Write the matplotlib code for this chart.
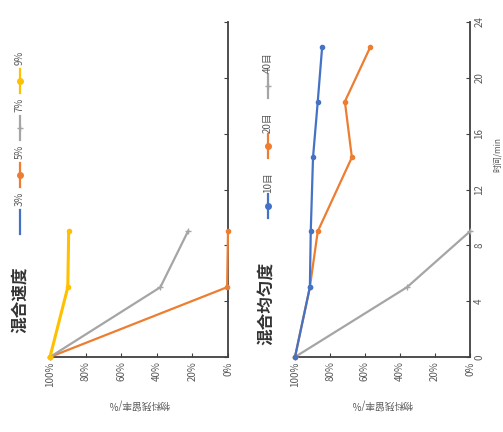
import numpy as np
import matplotlib
matplotlib.use("Agg")
from matplotlib import pyplot as plt

plt.rcParams['font.family'] = ['Noto Sans CJK SC', 'DejaVu Sans']

# chart is drawn turned a quarter turn: x = percent (100% on the left), y = time on the right side
t_left = [0, 5, 9]
yellow_left = [100, 90, 89.5]
gray_left = [100, 38, 22.5]
orange_left = [100, 0.5, 0]

t_right = [0, 5, 9, 14.3, 18.3, 22.2]
blue_right = [100, 91.5, 91, 89.7, 87, 84.5]
orange_right = [100, 91.5, 87, 67.5, 71.5, 57]
t_gray_right = [0, 5, 9]
gray_right = [100, 36, 0]

pct_ticks = [100, 80, 60, 40, 20, 0]
pct_labels = ['100%', '80%', '60%', '40%', '20%', '0%']
t_ticks = [0, 4, 8, 12, 16, 20, 24]

legend_left = ['3%', '5%', '7%', '9%']
legend_right = ['10目', '20目', '40目']

BLUE = '#4472C4'
ORANGE = '#ED7D31'
GRAY = '#A5A5A5'
GOLD = '#FFC000'
TXT = '#595959'
AX = '#404040'

W, H = 503, 432
fig = plt.figure(figsize=(W / 100, H / 100), dpi=100)


def px_box(x0, y0, x1, y1):
    return [x0 / W, 1 - y1 / H, (x1 - x0) / W, (y1 - y0) / H]


def style(ax, show_t):
    ax.set_xlim(100, 0)
    ax.set_ylim(0, 24)
    ax.spines['top'].set_visible(False)
    ax.spines['left'].set_visible(False)
    for s in ['bottom', 'right']:
        ax.spines[s].set_color(AX)
        ax.spines[s].set_linewidth(1.3)
    ax.yaxis.tick_right()
    ax.set_xticks(pct_ticks)
    ax.set_xticklabels(pct_labels, rotation=90, fontsize=7, color=TXT)
    ax.set_yticks(t_ticks)
    if show_t:
        ax.set_yticklabels([str(v) for v in t_ticks], rotation=90, fontsize=7,
                           color=TXT, va='center')
    else:
        ax.set_yticklabels([])
    ax.tick_params(axis='both', direction='in', length=3, color=AX, pad=3)
    ax.set_xlabel('物料残留率/%', rotation=180, fontsize=7, color=TXT, labelpad=8)


ax1 = fig.add_axes(px_box(50, 22, 228, 357))
style(ax1, False)
ax1.plot(orange_left, t_left, color=ORANGE, lw=1.6, marker='o', ms=3, clip_on=False, zorder=3)
ax1.plot(gray_left, t_left, color=GRAY, lw=1.6, marker='+', ms=5, clip_on=False, zorder=3)
ax1.plot(yellow_left, t_left, color=GOLD, lw=2.2, marker='o', ms=3, clip_on=False, zorder=4)

ax2 = fig.add_axes(px_box(295, 22, 470, 357))
style(ax2, True)
ax2.plot(gray_right, t_gray_right, color=GRAY, lw=1.6, marker='+', ms=5, clip_on=False, zorder=3)
ax2.plot(orange_right, t_right, color=ORANGE, lw=1.6, marker='o', ms=3, clip_on=False, zorder=3)
ax2.plot(blue_right, t_right, color=BLUE, lw=1.6, marker='o', ms=3, clip_on=False, zorder=4)

# titles and side labels, turned like the rest
fig.text(20 / W, 1 - 300 / H, '混合速度', rotation=90, fontsize=12, weight='bold',
         color='#333333', ha='center', va='center')
fig.text(267 / W, 1 - 303 / H, '混合均匀度', rotation=90, fontsize=12, weight='bold',
         color='#333333', ha='center', va='center')
fig.text(497 / W, 1 - 155 / H, '时间/min', rotation=90, fontsize=6, color=TXT,
         ha='center', va='center')

# legends drawn by hand, reading bottom to top
lax = fig.add_axes([0, 0, 1, 1])
lax.set_xlim(0, W)
lax.set_ylim(H, 0)
lax.axis('off')


def draw_legend(x, y_start, step, items):
    y = y_start
    for color, marker, label in items:
        lax.plot([x, x], [y, y - 24], color=color, lw=1.6)
        if marker:
            lax.plot([x], [y - 12], color=color, marker=marker, ms=4 if marker == 'o' else 5)
        lax.text(x, y - 35, label, rotation=90, fontsize=7, color=TXT,
                 ha='center', va='center')
        y -= step


draw_legend(20, 234, 47, [(BLUE, None, legend_left[0]),
                          (ORANGE, 'o', legend_left[1]),
                          (GRAY, '+', legend_left[2]),
                          (GOLD, 'o', legend_left[3])])
draw_legend(268, 218, 60, [(BLUE, 'o', legend_right[0]),
                           (ORANGE, 'o', legend_right[1]),
                           (GRAY, '+', legend_right[2])])

fig.savefig('out.png', dpi=100)
